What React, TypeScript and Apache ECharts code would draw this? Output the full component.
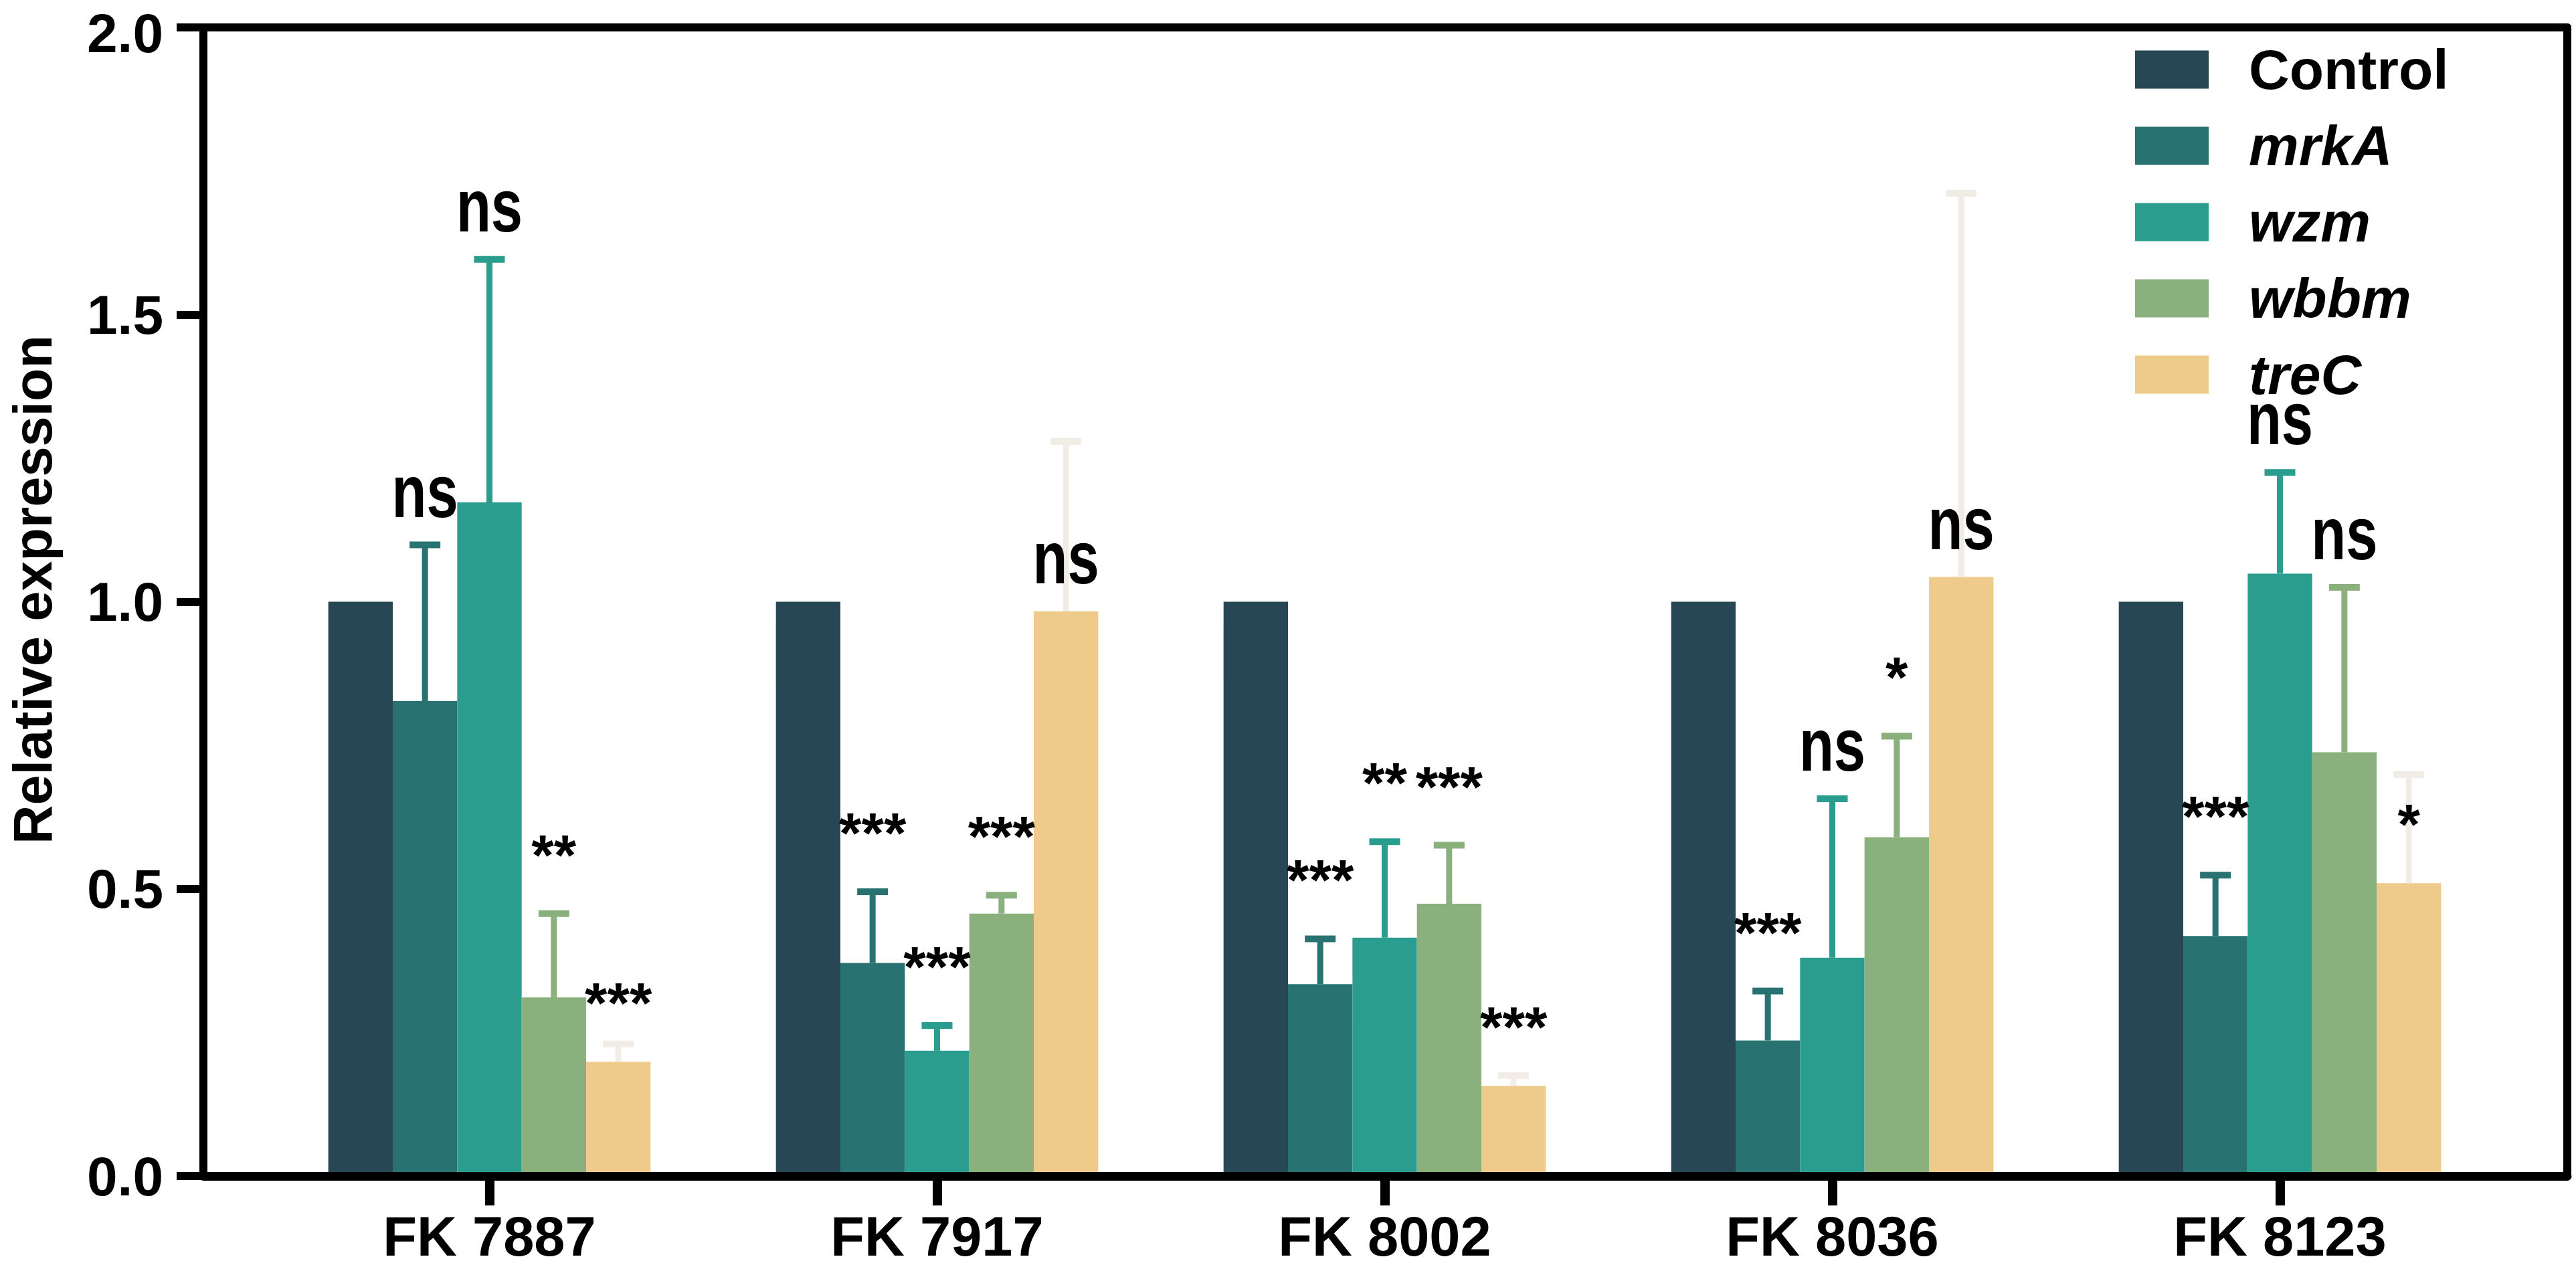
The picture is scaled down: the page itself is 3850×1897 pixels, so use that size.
import React, { useEffect, useRef } from "react";
import * as echarts from "echarts";

const categories = ["FK 7887", "FK 7917", "FK 8002", "FK 8036", "FK 8123"];
const seriesNames = ["Control", "mrkA", "wzm", "wbbm", "treC"];
const colors = ["#264753", "#287271", "#2A9D8F", "#8AB17D", "#EFCB8B"];
const errColors = ["#264753", "#287271", "#2A9D8F", "#8AB17D", "#F1EDE6"];

const controlMean = [1, 1, 1, 1, 1];
const mrkAMean = [0.827, 0.371, 0.334, 0.236, 0.418];
const mrkAErr = [0.272, 0.124, 0.079, 0.086, 0.106];
const wzmMean = [1.173, 0.218, 0.415, 0.38, 1.049];
const wzmErr = [0.423, 0.044, 0.167, 0.277, 0.176];
const wbbmMean = [0.311, 0.457, 0.474, 0.59, 0.738];
const wbbmErr = [0.146, 0.032, 0.102, 0.176, 0.287];
const treCMean = [0.199, 0.983, 0.157, 1.043, 0.51];
const treCErr = [0.031, 0.296, 0.018, 0.668, 0.189];

const mrkASig = ["ns", "***", "***", "***", "***"];
const wzmSig = ["ns", "***", "**", "ns", "ns"];
const wbbmSig = ["**", "***", "***", "*", "ns"];
const treCSig = ["***", "ns", "***", "ns", "*"];

const yTicks = [0, 0.5, 1, 1.5, 2];

const FONT = "Liberation Sans, Arial, Helvetica, sans-serif";

const means = [controlMean, mrkAMean, wzmMean, wbbmMean, treCMean];
const errs = [null, mrkAErr, wzmErr, wbbmErr, treCErr];
const sigs = [null, mrkASig, wzmSig, wbbmSig, treCSig];

function makeErrorSeries(k: number) {
  const m = means[k] as number[];
  const e = errs[k] as number[];
  const s = sigs[k] as string[];
  const anchorOnCap = k !== 4;
  return {
    type: "custom",
    name: seriesNames[k] + "-err",
    xAxisIndex: 0,
    yAxisIndex: 0,
    z: 5,
    silent: true,
    encode: { x: 0, y: 1 },
    data: categories.map((_, i) => [i, m[i], e[i]]),
    renderItem: (params: any, api: any) => {
      const i = api.value(0);
      const mean = api.value(1);
      const err = api.value(2);
      const band = api.size([1, 0])[0];
      const bw = (band * 0.72) / 5;
      const cx = api.coord([i, 0])[0] + (k - 2) * bw;
      const yTop = api.coord([i, mean])[1];
      const yCap = api.coord([i, mean + err])[1];
      const anchor = anchorOnCap ? yCap : yTop;
      const label = s[params.dataIndex];
      const isNs = label === "ns";
      const ty = anchor - (isNs ? 80 : 88);
      return {
        type: "group",
        children: [
          {
            type: "line",
            shape: { x1: cx, y1: yTop, x2: cx, y2: yCap },
            style: { stroke: errColors[k], lineWidth: 9 },
          },
          {
            type: "line",
            shape: { x1: cx - 23, y1: yCap, x2: cx + 23, y2: yCap },
            style: { stroke: errColors[k], lineWidth: 10 },
          },
          {
            type: "text",
            x: cx,
            y: ty,
            scaleY: isNs ? 1.3 : 1,
            style: {
              text: label,
              x: 0,
              y: 0,
              textAlign: "center",
              textVerticalAlign: "middle",
              fontFamily: FONT,
              fontWeight: "bold",
              fontSize: isNs ? 85 : 86,
              fill: "#000",
            },
          },
        ],
      };
    },
  };
}

export default function App() {
  const ref = useRef<HTMLDivElement>(null);
  useEffect(() => {
    if (!ref.current) return;
    const chart = echarts.init(ref.current, null, { renderer: "svg" });
    const barSeries = seriesNames.map((name, k) => ({
      type: "bar",
      name,
      xAxisIndex: 0,
      yAxisIndex: 0,
      data: means[k],
      barGap: "0%",
      barCategoryGap: "28%",
      itemStyle: { color: colors[k] },
      z: 2,
      silent: true,
    }));
    const yLabelStyle = {
      fontFamily: FONT,
      fontWeight: "bold",
      fontSize: 82,
      color: "#000",
    };
    const option: any = {
      animation: false,
      backgroundColor: "#ffffff",
      grid: [
        { left: 397, right: 108, top: 41, bottom: 139 },
        { left: 303, right: 13, top: 41, bottom: 139 },
      ],
      legend: {
        data: seriesNames,
        orient: "vertical",
        left: 3186,
        top: 57,
        itemWidth: 110,
        itemHeight: 57,
        itemGap: 30,
        icon: "rect",
        selectedMode: false,
        formatter: (name: string) =>
          name === "Control" ? `{c|${name}}` : `{g|${name}}`,
        textStyle: {
          rich: {
            c: {
              fontFamily: FONT,
              fontWeight: "bold",
              fontSize: 84,
              lineHeight: 57,
              padding: [0, 0, 0, 55],
              color: "#000",
            },
            g: {
              fontFamily: FONT,
              fontWeight: "bold",
              fontStyle: "italic",
              fontSize: 84,
              lineHeight: 57,
              padding: [0, 0, 0, 55],
              color: "#000",
            },
          },
        },
      },
      xAxis: [
        {
          type: "category",
          gridIndex: 0,
          data: categories,
          axisLine: { show: false },
          axisTick: {
            show: true,
            alignWithLabel: true,
            length: 44,
            lineStyle: { color: "#000", width: 14 },
          },
          axisLabel: {
            interval: 0,
            margin: 55,
            lineHeight: 70,
            fontFamily: FONT,
            fontWeight: "bold",
            fontSize: 83,
            color: "#000",
          },
          splitLine: { show: false },
        },
        {
          type: "value",
          gridIndex: 1,
          min: 0,
          max: 1,
          z: 10,
          position: "bottom",
          axisLine: {
            show: true,
            onZero: false,
            lineStyle: { color: "#000", width: 13 },
          },
          axisTick: { show: false },
          axisLabel: { show: false },
          splitLine: { show: false },
        },
        {
          type: "value",
          gridIndex: 1,
          min: 0,
          max: 1,
          z: 10,
          position: "top",
          axisLine: {
            show: true,
            onZero: false,
            lineStyle: { color: "#000", width: 12 },
          },
          axisTick: { show: false },
          axisLabel: { show: false },
          splitLine: { show: false },
        },
      ],
      yAxis: [
        {
          type: "value",
          gridIndex: 0,
          min: yTicks[0],
          max: yTicks[yTicks.length - 1],
          interval: 0.5,
          show: false,
        },
        {
          type: "value",
          gridIndex: 1,
          min: yTicks[0],
          max: yTicks[yTicks.length - 1],
          interval: 0.5,
          position: "left",
          z: 10,
          name: "Relative expression",
          nameLocation: "middle",
          nameGap: 215,
          nameTextStyle: {
            fontFamily: FONT,
            fontWeight: "bold",
            fontSize: 81,
            color: "#000",
            padding: [0, 0, 0, 36],
          },
          axisLine: {
            show: true,
            onZero: false,
            lineStyle: { color: "#000", width: 12 },
          },
          axisTick: {
            show: true,
            length: 40,
            lineStyle: { color: "#000", width: 12 },
          },
          axisLabel: {
            margin: 60,
            ...yLabelStyle,
            formatter: (v: number) =>
              v === yTicks[yTicks.length - 1]
                ? `{t|${v.toFixed(1)}}`
                : `{n|${v.toFixed(1)}}`,
            rich: {
              t: { ...yLabelStyle, padding: [16, 0, 0, 0] },
              n: { ...yLabelStyle },
            },
          },
          splitLine: { show: false },
        },
        {
          type: "value",
          gridIndex: 1,
          min: yTicks[0],
          max: yTicks[yTicks.length - 1],
          interval: 0.5,
          position: "right",
          z: 10,
          axisLine: {
            show: true,
            onZero: false,
            lineStyle: { color: "#000", width: 12 },
          },
          axisTick: { show: false },
          axisLabel: { show: false },
          splitLine: { show: false },
        },
      ],
      series: [
        ...barSeries,
        makeErrorSeries(1),
        makeErrorSeries(2),
        makeErrorSeries(3),
        makeErrorSeries(4),
      ],
    };
    chart.setOption(option);
    return () => chart.dispose();
  }, []);
  return (
    <div
      ref={ref}
      style={{
        position: "fixed",
        left: 0,
        top: 0,
        width: 3850,
        height: 1897,
        background: "#fff",
      }}
    />
  );
}
